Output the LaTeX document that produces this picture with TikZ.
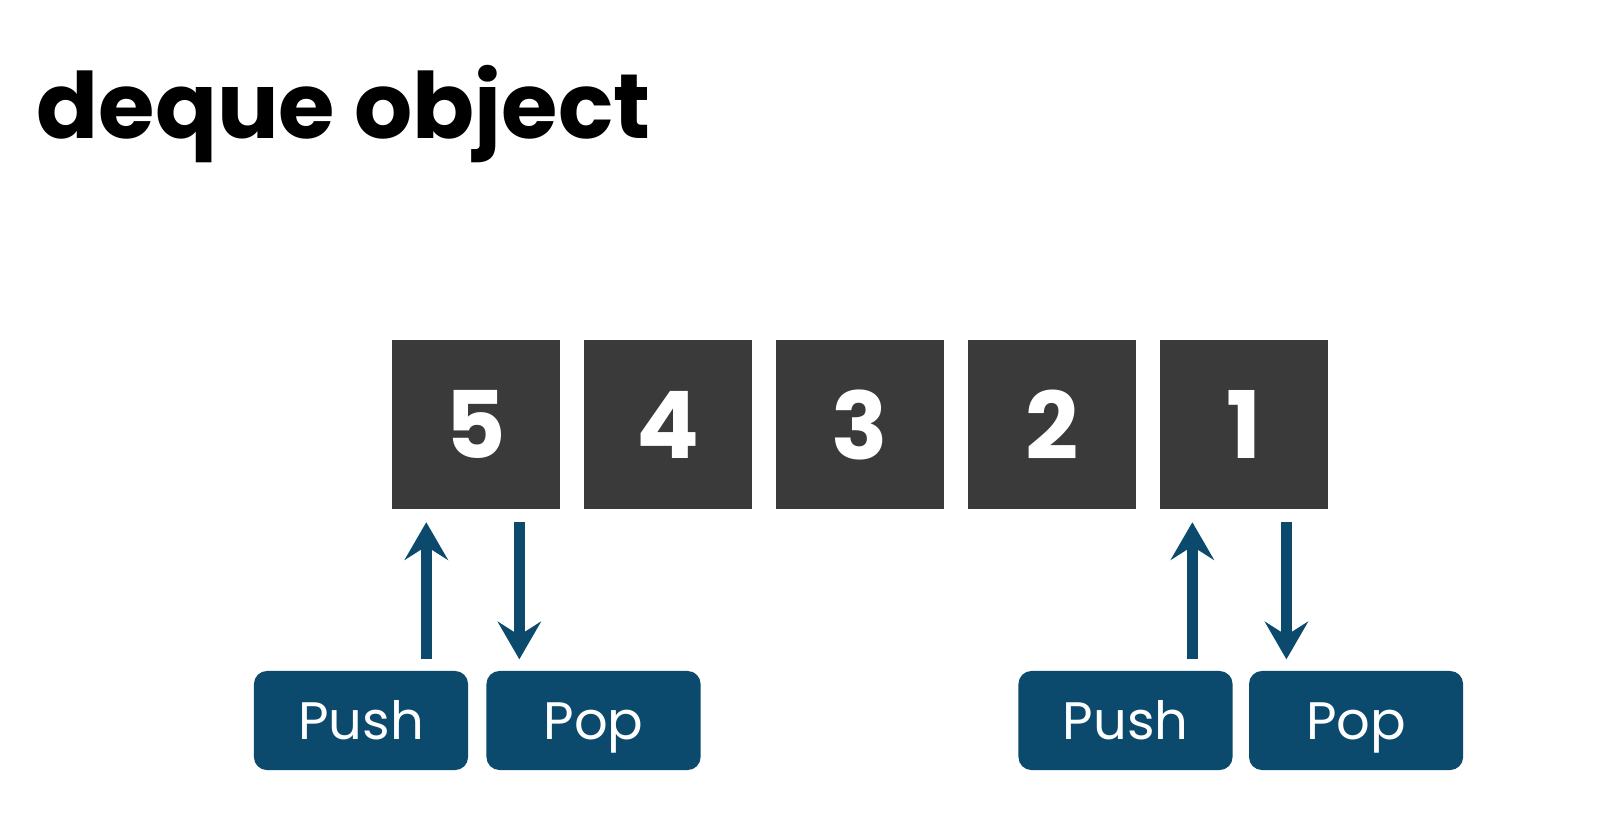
\documentclass[tikz,border=0pt]{standalone}
\usepackage{fontspec}
\setmainfont{Poppins}
\usetikzlibrary{positioning,arrows.meta}
\definecolor{celldark}{HTML}{3A3A3A}
\definecolor{dequeblue}{HTML}{0B4A6D}
\tikzset{cell/.style={fill=celldark,draw=none,minimum size=1.68cm,inner sep=0pt,text=white,font=\fontsize{26.5}{26.5}\selectfont\bfseries}}
\tikzset{opbox/.style={fill=dequeblue,rounded corners=0.13cm,minimum width=2.14cm,minimum height=0.99cm,inner sep=0pt,text height=0.38cm,text depth=0cm,text=white,font=\fontsize{15}{15}\selectfont}}
\tikzset{oparrow/.style={color=dequeblue,line width=3.2pt,line cap=butt,-{Stealth[length=0.38cm,width=0.44cm,inset=0.14cm,line width=0pt]}}}

\begin{document}
\begin{tikzpicture}[x=0.01cm,y=0.01cm]
	\fill[white] (0,0) rectangle (1601,-827); %page
	\useasboundingbox (0,0) rectangle (1601,-827);
	\node[anchor=base west,inner sep=0pt,font=\fontsize{26}{26}\selectfont\bfseries] (title) at (36,-138) {deque object};

	% the five cells
	\node[cell] (c5) at (476,-424.5) {5};
	\node[cell,right=0.225cm of c5] (c4) {4};
	\node[cell,right=0.225cm of c4] (c3) {3};
	\node[cell,right=0.225cm of c3] (c2) {2};
	\node[cell,right=0.225cm of c2] (c1) {1};

	% push / pop at both ends
	\node[opbox] (pushL) at (361,-720.5) {Push};
	\node[opbox,right=0.17cm of pushL] (popL) {Pop};
	\node[opbox] (pushR) at (1125.5,-720.5) {Push};
	\node[opbox,right=0.15cm of pushR] (popR) {Pop};

	\coordinate (inL) at ([xshift=0.35cm]c5.south west);
	\coordinate (outL) at ([xshift=1.28cm]c5.south west);
	\coordinate (inR) at ([xshift=0.33cm]c1.south west);
	\coordinate (outR) at ([xshift=1.27cm]c1.south west);

	\draw[oparrow,shorten <=0.11cm,shorten >=0.13cm] (pushL.north -| inL) -- (inL);
	\draw[oparrow,shorten <=0.13cm,shorten >=0.11cm] (outL) -- (popL.north -| outL);
	\draw[oparrow,shorten <=0.11cm,shorten >=0.13cm] (pushR.north -| inR) -- (inR);
	\draw[oparrow,shorten <=0.13cm,shorten >=0.11cm] (outR) -- (popR.north -| outR);
\end{tikzpicture}
\end{document}
